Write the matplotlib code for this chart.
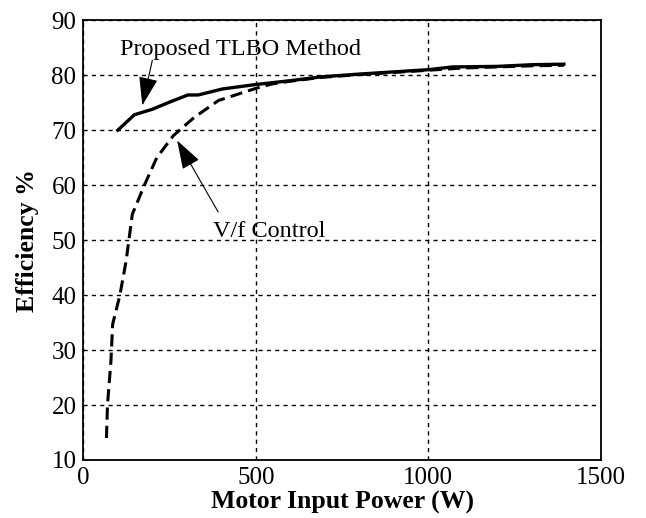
import numpy as np
import matplotlib.pyplot as plt

# Data
tlbo_power = [100, 148, 200, 250, 303, 333, 404, 500, 600, 690, 800, 900, 1000, 1071, 1200, 1300, 1393]
tlbo_eff = [70.0, 72.8, 73.8, 75.1, 76.4, 76.4, 77.5, 78.3, 79.0, 79.7, 80.2, 80.6, 81.0, 81.5, 81.6, 81.9, 82.0]

vf_power = [67, 70, 80, 85, 106, 124, 142, 177, 213, 261, 321, 392, 500, 547, 600, 690, 800, 900, 1000, 1100, 1200, 1300, 1393]
vf_eff = [14.0, 20.0, 28.0, 34.7, 40.0, 46.2, 54.7, 60.0, 65.0, 69.0, 72.3, 75.4, 77.6, 78.4, 78.9, 79.6, 80.1, 80.5, 80.9, 81.3, 81.5, 81.7, 81.8]

xticks = [0, 500, 1000, 1500]
yticks = [10, 20, 30, 40, 50, 60, 70, 80, 90]

plt.rcParams['font.family'] = ['Liberation Serif', 'DejaVu Serif']

fig = plt.figure(figsize=(6.46, 5.18), dpi=100)
ax = fig.add_axes([0.129, 0.112, 0.801, 0.849])

ax.plot(tlbo_power, tlbo_eff, color='black', lw=2.4, zorder=3)
ax.plot(vf_power, vf_eff, color='black', lw=2.2, ls=(0, (4, 2)), zorder=3)

ax.set_xlim(0, 1500)
ax.set_ylim(10, 90)
ax.set_xticks(xticks)
ax.set_yticks(yticks)
ax.tick_params(labelsize=18, length=0)
ax.tick_params(axis='x', pad=5)
ax.tick_params(axis='y', pad=5)
ax.grid(True, color='black', ls=(0, (3, 3)), lw=1.0)
for s in ax.spines.values():
    s.set_linewidth(1.3)

ax.set_xlabel('Motor Input Power (W)', fontsize=18.5, fontweight='bold')
ax.set_ylabel('Efficiency %', fontsize=18.5, fontweight='bold')
ax.xaxis.label.set_va('center')
ax.yaxis.label.set_va('center')
ax.xaxis.set_label_coords(0.5, -0.097)
ax.yaxis.set_label_coords(-0.107, 0.5)

# labels and their arrows
ax.text(457, 84.6, 'Proposed TLBO Method', fontsize=17.5, ha='center', va='center')
ax.text(540, 51.5, 'V/f Control', fontsize=17.5, ha='center', va='center')

arrow = dict(arrowstyle='-|>,head_length=0.9,head_width=0.3', color='black',
             lw=0.8, mutation_scale=20, shrinkA=0, shrinkB=0)
ax.annotate('', xy=(171, 74.5), xytext=(200, 82.7), arrowprops=arrow)
ax.annotate('', xy=(272, 68.1), xytext=(391, 55.1), arrowprops=arrow)

plt.savefig('out.png', dpi=100)
